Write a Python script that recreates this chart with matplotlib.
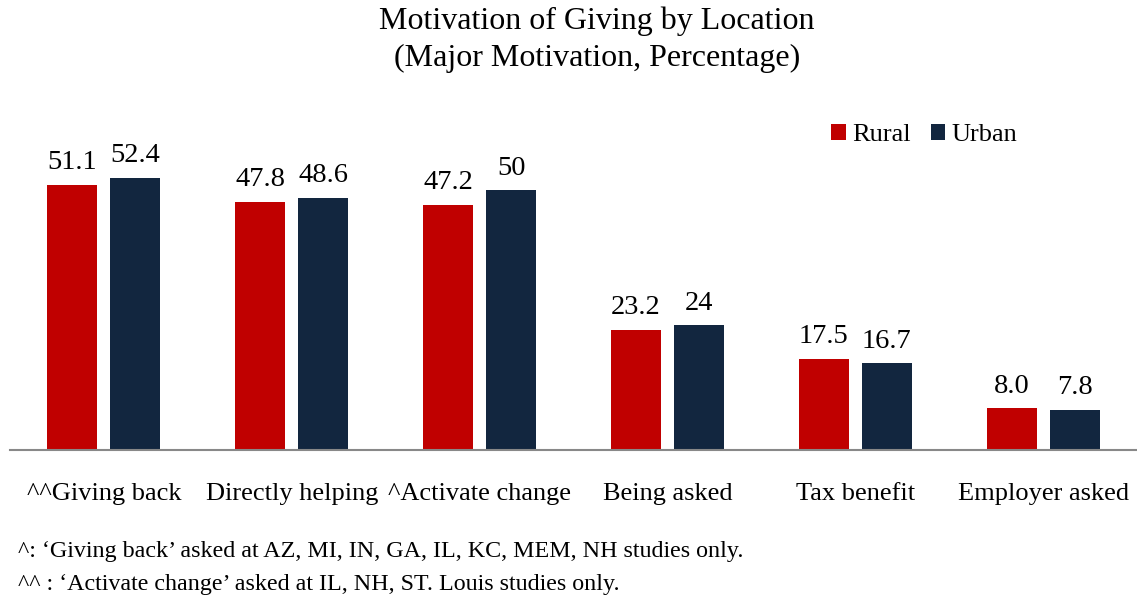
import numpy as np
import matplotlib.pyplot as plt

plt.rcParams['font.family'] = ['Liberation Serif', 'DejaVu Serif']

categories = ['^^Giving back', 'Directly helping', '^Activate change',
              'Being asked', 'Tax benefit', 'Employer asked']
rural = [51.1, 47.8, 47.2, 23.2, 17.5, 8.0]
urban = [52.4, 48.6, 50, 24, 16.7, 7.8]
rural_labels = ['51.1', '47.8', '47.2', '23.2', '17.5', '8.0']
urban_labels = ['52.4', '48.6', '50', '24', '16.7', '7.8']

red = '#C00000'
navy = '#12263F'

fig = plt.figure(figsize=(11.37, 5.98), dpi=100)
ax = fig.add_axes([0.0088, 0.2475, 0.9912, 0.585])

x = np.arange(len(categories))
w = 0.266
off = 0.168
b1 = ax.bar(x - off, rural, w, color=red, label='Rural')
b2 = ax.bar(x + off, urban, w, color=navy, label='Urban')

for bars, labs in [(b1, rural_labels), (b2, urban_labels)]:
    for b, t in zip(bars, labs):
        ax.annotate(t, (b.get_x() + b.get_width() / 2, b.get_height()),
                    xytext=(0, 7), textcoords='offset points',
                    ha='center', va='bottom', fontsize=20.5)

ax.set_xlim(-0.5, 5.5)
ax.set_ylim(0, 67.4)
ax.set_yticks([])
ax.set_xticks(x)
ax.set_xticklabels(categories, fontsize=19)
ax.tick_params(axis='x', length=0, pad=24)
for s in ['top', 'right', 'left']:
    ax.spines[s].set_visible(False)
ax.spines['bottom'].set_color('#888888')
ax.spines['bottom'].set_linewidth(1.5)

fig.legend(handles=[b1, b2], loc='center left', bbox_to_anchor=(0.731, 0.774),
           ncol=2, frameon=False, fontsize=19, handlelength=0.55,
           handleheight=0.55, handletextpad=0.25, columnspacing=0.75,
           borderpad=0, borderaxespad=0)

fig.text(0.525, 0.965, 'Motivation of Giving by Location', ha='center', va='center',
         fontsize=23)
fig.text(0.525, 0.903, '(Major Motivation, Percentage)', ha='center', va='center',
         fontsize=23)

fig.text(0.016, 0.077, "^: \u2018Giving back\u2019 asked at AZ, MI, IN, GA, IL, KC, MEM, NH studies only.",
         ha='left', va='center', fontsize=17.3)
fig.text(0.016, 0.023, "^^ : \u2018Activate change\u2019 asked at IL, NH, ST. Louis studies only.",
         ha='left', va='center', fontsize=17.3)

fig.savefig('out.png', dpi=100)
